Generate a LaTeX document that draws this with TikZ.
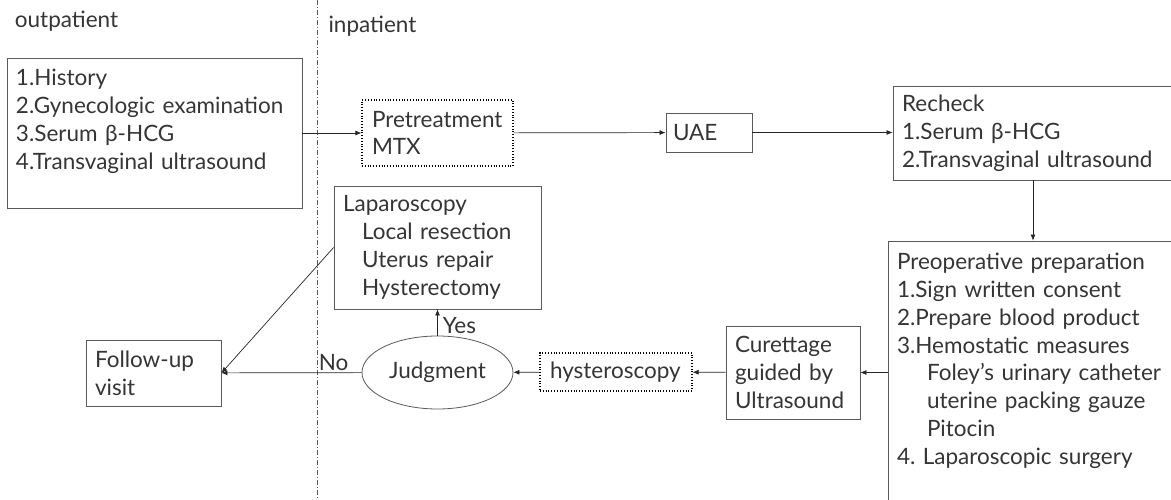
\documentclass[tikz,border=0pt]{standalone}
\usepackage{fontspec}
\setmainfont{Lato}
\usepackage{tikz}
\usetikzlibrary{shapes.geometric,arrows.meta}
\frenchspacing

\definecolor{linegray}{HTML}{5A5A5A}
\definecolor{textgray}{HTML}{353535}

\begin{document}
\begin{tikzpicture}[x=1pt,y=-1pt,
    font=\fontsize{22.5}{27.8}\selectfont, text=textgray,
    box/.style={draw=linegray, line width=0.8pt, inner xsep=9pt, inner ysep=0pt, align=left},
    dotbox/.style={box, draw=black, dotted, line width=1.2pt},
    flow/.style={-{Latex[length=6pt,width=5pt]}, line width=0.7pt, draw=black!85}]
  \useasboundingbox (0,0) rectangle (1171,500);

  % headings and the outpatient / inpatient divider
  \node (outp) at (66.5,21) {outpatient};
  \node (inp) at (372.5,26) {inpatient};
  \draw[linegray, line width=0.6pt, dash pattern=on 5pt off 2pt on 1pt off 2pt] (317,0) -- (317,500);

  % top row
  \node[box, text width=277pt, minimum height=150pt] (hist) at (154.5,133) {1.History\\2.Gynecologic examination\\3.Serum β-HCG\\4.Transvaginal ultrasound\\~};
  \node[dotbox, inner xsep=10pt, text width=131pt, minimum height=66pt] (pre) at (437.5,133) {Pretreatment\\MTX};
  \node[box, inner xsep=7pt, text width=72pt, minimum height=39pt] (uae) at (709,132.5) {UAE};
  \node[box, text width=269pt, minimum height=94pt] (rech) at (1036.5,133) {Recheck\\1.Serum β-HCG\\2.Transvaginal ultrasound};

  % right column (runs off the page on the right, as in the chart)
  \node[box, text width=279pt, minimum height=291pt] (prep) at (1036.5,386.5) {Preoperative preparation\\1.Sign written consent\\2.Prepare blood product\\3.Hemostatic measures\\\hspace*{30pt}Foley's urinary catheter\\\hspace*{30pt}uterine packing gauze\\\hspace*{30pt}Pitocin\\4. Laparoscopic surgery\\~\\~};

  % bottom row
  \node[box, text width=116pt, minimum height=93pt] (cur) at (793,372.5) {Curettage\\guided by\\Ultrasound};
  \node[dotbox, inner xsep=10pt, text width=132pt, minimum height=38pt] (hys) at (616,372) {hysteroscopy};
  \node[draw=linegray, line width=0.8pt, ellipse, minimum width=151pt, minimum height=73pt, inner sep=0pt] (judg) at (437.5,372.5) {Judgment};
  \node[box, text width=189pt, minimum height=123pt] (lap) at (437.5,247.5) {Laparoscopy\\\hspace*{19pt}Local resection\\\hspace*{19pt}Uterus repair\\\hspace*{19pt}Hysterectomy};
  \node[box, text width=117pt, minimum height=66pt] (fol) at (153.5,373) {Follow-up\\visit};

  \draw[flow] (hist) -- (pre);
  \draw[flow] (pre) -- (uae);
  \draw[flow] (uae) -- (rech.west |- uae.east);
  \draw[flow] ([xshift=-3.5pt]rech.south) -- ([xshift=-3.5pt]rech.south |- prep.north);
  \draw[flow] (prep.west |- cur.east) -- (cur.east);
  \draw[flow] (cur) -- (hys);
  \draw[flow] (hys) -- (judg);
  \draw[flow] (judg) -- node[right, pos=0.4, inner xsep=5pt] {Yes} (lap);
  \draw[flow] (judg) -- node[above, pos=0.2, inner ysep=2pt] {No} (fol);
  \draw[flow] (lap.west) -- (fol.east);
\end{tikzpicture}
\end{document}
